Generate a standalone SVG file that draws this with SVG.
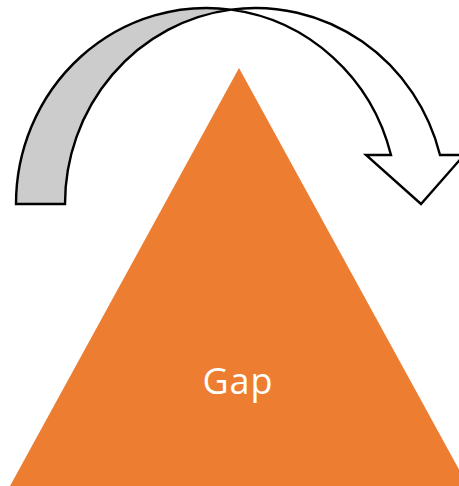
<svg xmlns="http://www.w3.org/2000/svg" width="459" height="486" viewBox="0 0 459 486">
  <style>
    .arrow { stroke: #000000; stroke-width: 2.4; stroke-linejoin: miter; }
    .back { fill: #CCCCCC; }
    .front { fill: #FFFFFF; }
    .tri { fill: #ED7D31; }
    .label { font-family: "Open Sans", "Liberation Sans", sans-serif; font-size: 36px; letter-spacing: 1px; fill: #FFFFFF; text-anchor: middle; }
  </style>
  <rect width="459" height="486" fill="#FFFFFF"/>
  <g id="gap-triangle">
    <path class="tri" d="M239,68 L10,486 L468,486 Z"/>
    <text class="label" x="238" y="393.5">Gap</text>
  </g>
  <g id="curved-arrow">
    <path class="arrow back" d="M16,204 A190.5,196 0 0,1 231,9.6 A190.5,196 0 0,0 65,204 Z"/>
    <path class="arrow front" d="M231,9.6 A190.5,196 0 0,1 440,155 L464,155 L421,204 L366,155 L391,155 A190.5,196 0 0,0 231,9.6 Z"/>
  </g>
  <g id="connectors"></g>
</svg>
